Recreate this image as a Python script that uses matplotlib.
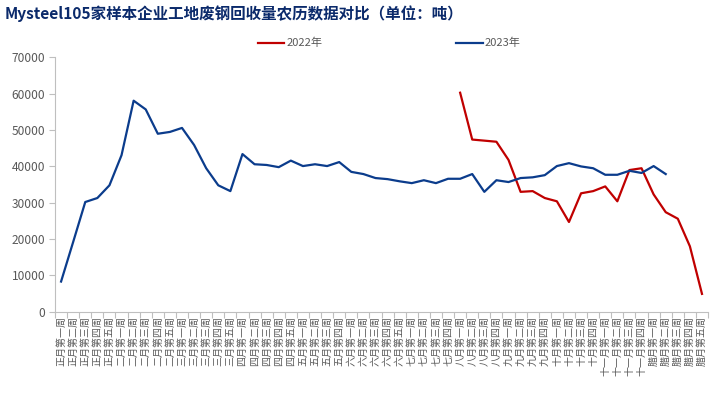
import matplotlib
matplotlib.use("Agg")
import matplotlib.pyplot as plt
import numpy as np

plt.rcParams['font.family'] = ['Noto Sans CJK SC', 'DejaVu Sans']

months = ["正月", "二月", "三月", "四月", "五月", "六月", "七月", "八月", "九月", "十月", "十一月", "腊月"]
weeks_per_month = [5, 5, 5, 5, 4, 5, 4, 4, 4, 4, 4, 5]
week_names = ["第一周", "第二周", "第三周", "第四周", "第五周"]
categories = [m + week_names[w] for m, n in zip(months, weeks_per_month) for w in range(n)]

# 2022: starts at 八月第一周 (index 33)
values_2022 = [60300, 47400, 47100, 46800, 41800, 33000, 33200, 31300, 30400, 24700,
               32600, 33200, 34500, 30400, 39000, 39500, 32300, 27400, 25600, 18000, 4900]
start_2022 = 33

values_2023 = [8300, 19200, 30200, 31300, 34800, 43100, 58100, 55700, 49000, 49500,
               50600, 45900, 39500, 34800, 33200, 43400, 40600, 40400, 39800, 41600,
               40100, 40600, 40100, 41200, 38500, 37900, 36800, 36500, 35900, 35400,
               36200, 35400, 36600, 36600, 37900, 33000, 36200, 35700, 36800, 37000,
               37600, 40100, 40900, 40000, 39500, 37700, 37700, 38800, 38200, 40100, 37900]

title = "Mysteel105家样本企业工地废钢回收量农历数据对比（单位：吨）"

fig = plt.figure(figsize=(7.25, 3.97), dpi=100)
ax = fig.add_axes([0.0759, 0.2149, 0.9007, 0.6403])

x = np.arange(len(categories))
x22 = np.arange(start_2022, start_2022 + len(values_2022))
x23 = np.arange(len(values_2023))

ax.plot(x22, values_2022, color='#C00000', lw=1.6, label='2022年', solid_joinstyle='round')
ax.plot(x23, values_2023, color='#0B3C8C', lw=1.6, label='2023年', solid_joinstyle='round')

ax.set_xlim(-0.5, len(categories) - 0.5)
ax.set_ylim(0, 70000)
ax.set_yticks(np.arange(0, 70001, 10000))
ax.set_yticklabels([str(v) for v in range(0, 70001, 10000)])

ax.set_xticks(x)
ax.set_xticklabels(categories, rotation=90, fontsize=7.2, color='#595959')
ax.set_xticks(np.arange(-0.5, len(categories)), minor=True)
ax.tick_params(axis='x', which='major', length=0, pad=3)
ax.tick_params(axis='x', which='minor', length=4, color='#BFBFBF', width=0.8)
ax.tick_params(axis='y', length=4, color='#BFBFBF', width=0.8, labelsize=8.6, labelcolor='#595959', pad=3)
for lab in ax.get_xticklabels():
    lab.set_verticalalignment('top')

for s in ['top', 'right']:
    ax.spines[s].set_visible(False)
for s in ['left', 'bottom']:
    ax.spines[s].set_color('#BFBFBF')
    ax.spines[s].set_linewidth(0.8)

fig.text(0.006, 0.9665, title, fontsize=11.2, fontweight='bold', color='#0B2A6B', va='center', ha='left')

leg = fig.legend(loc='center', bbox_to_anchor=(0.537, 0.891), ncol=2, frameon=False,
                 fontsize=8, handlelength=2.4, handletextpad=0.2, columnspacing=12.0)
for t in leg.get_texts():
    t.set_color('#595959')

fig.savefig('out.png', dpi=100)
